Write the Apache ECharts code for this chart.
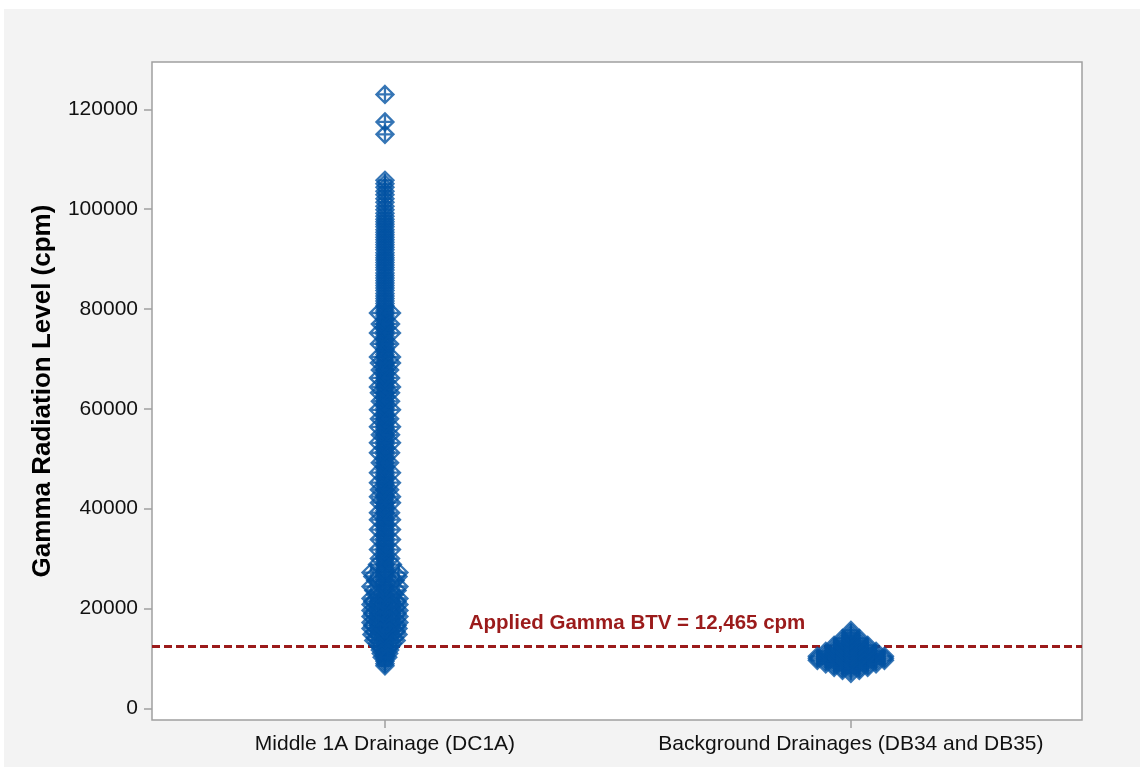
<!DOCTYPE html>
<html>
<head>
<meta charset="utf-8">
<script src="https://cdn.jsdelivr.net/npm/echarts@6/dist/echarts.min.js"></script>
<style>
  html, body { margin: 0; padding: 0; background: #fff; }
  #chart { width: 1140px; height: 768px; }
</style>
</head>
<body>
<div id="chart"></div>
<script>
  // categories on the x axis (positions 1 and 2)
  const categories = ['Middle 1A Drainage (DC1A)', 'Background Drainages (DB34 and DB35)'];
  const yTicks = [0, 20000, 40000, 60000, 80000, 100000, 120000];
  const btv = 12465;

  // DC1A readings (cpm) that sit on the category centre line
  const dc1aCore = [
    123000, 117500, 115000,
    105800, 105100, 104400, 103600, 102900, 102100, 101400, 100600, 99900, 99200, 98600,
    98000, 97500, 97000, 96500, 95900, 95400, 94900, 94400, 93900, 93400,
    92900, 92400, 91900, 91300, 90800, 90300, 89800, 89300, 88800, 88300,
    87800, 87200, 86700, 86200, 85700, 85200, 84700, 84200, 83700, 83100,
    82600, 82100, 81600, 81100, 80600, 80100, 79600, 79100, 78600, 78000,
    77500, 77000, 76500, 76000, 75500, 75000, 74500, 73900, 73400, 72900,
    72400, 71900, 71400, 70900, 70400, 69800, 69300, 68800, 68300, 67800,
    67300, 66800, 66300, 65700, 65200, 64700, 64200, 63700, 63200, 62700,
    62200, 61600, 61100, 60600, 60100, 59600, 59100, 58600, 58100, 57500,
    57000, 56500, 56000, 55500, 55000, 54500, 54000, 53400, 52900, 52400,
    51900, 51400, 50900, 50400, 49900, 49300, 48800, 48300, 47800, 47300,
    46800, 46300, 45800, 45200, 44700, 44200, 43700, 43200, 42700, 42200,
    41700, 41100, 40600, 40100, 39600, 39100, 38600, 38100, 37600, 37000,
    36500, 36000, 35500, 35000, 34500, 34000, 33500, 32900, 32400, 31900,
    31400, 30900, 30400, 29900, 29400, 28800, 28300, 27800, 27300, 26800,
    26300, 25800, 25300, 24700, 24200, 23700, 23200, 22700, 22200, 21700,
    21200, 20600, 20100, 19600, 19100, 18600, 18100, 17600, 17100, 16500,
    16000, 15500, 15000, 14500, 14000, 13500, 13000, 12400, 11900, 11400,
    10900, 10400, 9900, 9400, 8900, 8500
  ];

  // DC1A readings pushed sideways by jitter: [offset from centre, cpm]
  const dc1aSpread = [
    [-0.014, 79200], [0.014, 79200], [-0.010, 77000], [0.012, 77000],
    [-0.014, 75200], [0.014, 75200], [-0.012, 73000], [0.010, 73000],
    [-0.014, 70400], [0.014, 70400], [-0.012, 69200], [0.014, 69200],
    [-0.010, 67800], [0.010, 67800], [-0.014, 66200], [0.012, 66200],
    [-0.014, 64400], [0.014, 64400], [-0.012, 63200], [0.012, 63200],
    [-0.010, 61500], [0.012, 61500], [-0.014, 59800], [0.014, 59800],
    [-0.012, 58000], [0.010, 58000], [-0.014, 56400], [0.014, 56400],
    [-0.010, 54800], [0.012, 54800], [-0.014, 53200], [0.014, 53200],
    [-0.014, 51200], [0.012, 51200], [-0.010, 49200], [0.010, 49200],
    [-0.014, 47200], [0.014, 47200], [-0.014, 45200], [0.014, 45200],
    [-0.012, 43800], [0.010, 43800], [-0.014, 42400], [0.014, 42400],
    [-0.012, 41200], [0.014, 41200], [-0.014, 39200], [0.012, 39200],
    [-0.014, 37800], [0.014, 37800], [-0.014, 35800], [0.014, 35800],
    [-0.012, 33800], [0.014, 33800], [-0.014, 31800], [0.014, 31800],
    [-0.012, 30000], [0.012, 30000], [-0.016, 28800], [0.016, 28800],
    [-0.030, 27200], [0.030, 27200], [-0.026, 26400], [0.028, 26400],
    [-0.020, 25600], [0.022, 25600], [-0.030, 24400], [0.030, 24400],
    [-0.024, 23600], [0.026, 23600], [-0.020, 22800], [0.020, 22800],
    [-0.030, 22000], [0.030, 22000], [-0.026, 21400], [0.026, 21400],
    [-0.014, 21400], [0.014, 21400], [-0.030, 20800], [0.030, 20800],
    [-0.022, 20200], [0.024, 20200], [-0.010, 20200], [0.010, 20200],
    [-0.030, 19600], [0.030, 19600], [-0.026, 19000], [0.026, 19000],
    [-0.014, 19000], [0.014, 19000], [-0.030, 18400], [0.030, 18400],
    [-0.022, 17800], [0.024, 17800], [-0.010, 17800], [0.010, 17800],
    [-0.030, 17200], [0.030, 17200], [-0.026, 16600], [0.026, 16600],
    [-0.014, 16600], [0.014, 16600], [-0.030, 16000], [0.028, 16000],
    [-0.022, 15400], [0.024, 15400], [-0.010, 15400], [0.010, 15400],
    [-0.028, 14800], [0.028, 14800], [-0.020, 14200], [0.020, 14200],
    [-0.024, 13600], [0.024, 13600], [-0.016, 13000], [0.016, 13000],
    [-0.012, 12400], [0.012, 12400], [-0.010, 11700], [0.010, 11700],
    [-0.008, 11000], [0.008, 11000], [-0.006, 10200], [0.006, 10200]
  ];

  // Background drainages readings: [offset from centre, cpm]
  const bgPoints = [
    [0, 15600], [0, 15100], [0, 14600], [0, 14100], [0, 13600], [0, 13100],
    [0, 12600], [0, 12100], [0, 11600], [0, 11100], [0, 10600], [0, 10100],
    [0, 9600], [0, 9100], [0, 8600], [0, 8100], [0, 7600], [0, 7000],
    [-0.018, 14000], [-0.018, 13500], [-0.018, 13000], [-0.018, 12500], [-0.018, 12000],
    [-0.018, 11500], [-0.018, 11000], [-0.018, 10500], [-0.018, 10000], [-0.018, 9500],
    [-0.018, 9000], [-0.018, 8500], [-0.018, 8000], [-0.018, 7600],
    [0.018, 14000], [0.018, 13500], [0.018, 13000], [0.018, 12500], [0.018, 12000],
    [0.018, 11500], [0.018, 11000], [0.018, 10500], [0.018, 10000], [0.018, 9500],
    [0.018, 9000], [0.018, 8500], [0.018, 8000], [0.018, 7600],
    [-0.036, 12600], [-0.036, 12100], [-0.036, 11600], [-0.036, 11100], [-0.036, 10600],
    [-0.036, 10100], [-0.036, 9600], [-0.036, 9100], [-0.036, 8600], [-0.036, 8200],
    [0.036, 12600], [0.036, 12100], [0.036, 11600], [0.036, 11100], [0.036, 10600],
    [0.036, 10100], [0.036, 9600], [0.036, 9100], [0.036, 8600], [0.036, 8200],
    [-0.054, 11400], [-0.054, 10900], [-0.054, 10400], [-0.054, 9900], [-0.054, 9400], [-0.054, 8900],
    [0.054, 11400], [0.054, 10900], [0.054, 10400], [0.054, 9900], [0.054, 9400], [0.054, 8900],
    [-0.072, 10400], [-0.072, 10000], [-0.072, 9600],
    [0.072, 10400], [0.072, 10000], [0.072, 9600]
  ];

  const blue = '#0253a3';
  const red = '#9b1b1b';
  const diamond = 'path://M10,0L20,10L10,20L0,10Z M10,0L10,20 M0,10L20,10';
  const markStyle = { color: 'rgba(0,0,0,0)', borderColor: blue, borderWidth: 2.3 };

  const chart = echarts.init(document.getElementById('chart'));

  const option = {
    backgroundColor: '#ffffff',
    animation: false,
    textStyle: { fontFamily: 'Liberation Sans, Arial, sans-serif' },
    graphic: [{
      type: 'rect',
      z: -10,
      silent: true,
      shape: { x: 4, y: 9, width: 1136, height: 758 },
      style: { fill: '#f3f3f3' }
    }],
    grid: {
      left: 152,
      right: 58,
      top: 62,
      bottom: 48,
      show: true,
      backgroundColor: '#ffffff',
      borderColor: '#a0a0a0',
      borderWidth: 1.5
    },
    xAxis: {
      type: 'value',
      min: 0.5,
      max: 2.496,
      axisLine: { show: false, onZero: false },
      splitLine: { show: false },
      axisTick: {
        show: true,
        inside: false,
        length: 8,
        customValues: [1, 2],
        lineStyle: { color: '#a0a0a0', width: 1.5 }
      },
      axisLabel: {
        customValues: [1, 2],
        margin: 14,
        fontSize: 21,
        color: '#111',
        formatter: v => categories[Math.round(v) - 1]
      }
    },
    yAxis: {
      type: 'value',
      min: -2350,
      max: 129500,
      name: 'Gamma Radiation Level (cpm)',
      nameLocation: 'middle',
      nameGap: 96,
      nameTextStyle: { fontSize: 26, fontWeight: 'bold', color: '#000' },
      axisLine: { show: false, onZero: false },
      splitLine: { show: false },
      axisTick: {
        show: true,
        inside: false,
        length: 8,
        customValues: yTicks,
        lineStyle: { color: '#a0a0a0', width: 1.5 }
      },
      axisLabel: {
        customValues: yTicks,
        margin: 14,
        fontSize: 21,
        color: '#111',
        formatter: v => String(v)
      }
    },
    series: [{
      type: 'scatter',
      symbol: diamond,
      symbolSize: 17,
      itemStyle: markStyle,
      data: dc1aCore.map(v => [1, v]),
      z: 3
    }, {
      type: 'scatter',
      symbol: diamond,
      symbolSize: 17,
      itemStyle: markStyle,
      data: dc1aSpread.map(p => [1 + p[0], p[1]]),
      z: 3
    }, {
      type: 'scatter',
      symbol: diamond,
      symbolSize: 17,
      itemStyle: markStyle,
      data: bgPoints.map(p => [2 + p[0], p[1]]),
      z: 3,
      markLine: {
        silent: true,
        symbol: 'none',
        z: 2,
        lineStyle: { color: red, width: 3, type: [8, 4] },
        label: {
          show: true,
          position: 'insideMiddleTop',
          distance: 12,
          offset: [20, 0],
          color: red,
          fontSize: 20.5,
          fontWeight: 'bold',
          formatter: 'Applied Gamma BTV = 12,465 cpm'
        },
        data: [{ yAxis: btv }]
      }
    }]
  };

  chart.setOption(option);
</script>
</body>
</html>
